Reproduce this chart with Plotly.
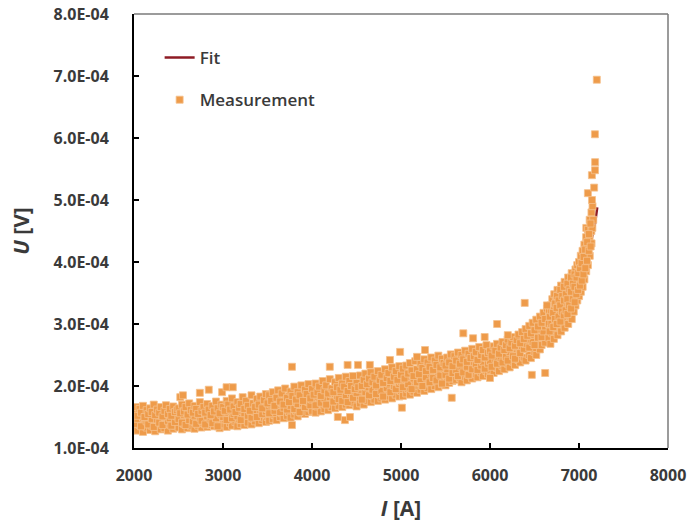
import plotly.graph_objects as go

# ---- data (U values in µV, i.e. 1E-6 V) ----
band_I = [2003,2021,2040,2062,2079,2101,2118,2142,2160,2181,2199,2222,2238,2260,2283,2301,2320,2342,2359,2381,2402,2419,2441,2460,2482,
          2501,2519,2540,2561,2580,2602,2620,2639,2661,2680,2699,2721,2740,2759,2781,2800,2822,2839,2861,2880,2899,2921,2940,2962,2981,
          3002,3020,3041,3059,3080,3101,3119,3140,3162,3181,3199,3221,3240,3260,3279,3301,3320,3339,3361,3380,3402,3419,3441,3460,3482,
          3500,3519,3541,3560,3579,3601,3620,3642,3660,3681,3699,3720,3741,3760,3779,3801,3820,3839,3861,3880,3899,3921,3940,3960,3981,
          4001,4019,4040,4061,4080,4099,4121,4140,4159,4181,4200,4221,4240,4259,4281,4300,4319,4340,4361,4380,4401,4420,4439,4461,4480,
          4501,4519,4540,4560,4581,4600,4619,4641,4660,4679,4701,4720,4740,4761,4780,4799,4821,4840,4859,4881,4900,4920,4941,4960,4981,
          5000,5021,5040,5059,5081,5100,5119,5141,5160,5179,5201,5220,5240,5261,5280,5299,5321,5340,5361,5380,5399,5420,5441,5460,5479,
          5500,5519,5541,5560,5579,5601,5620,5640,5661,5680,5699,5721,5740,5759,5781,5800,5819,5841,5860,5879,5901,5920,5941,5960,5979,
          6000,6019,6041,6060,6079,6101,6120,6140,6161,6180,6199,6221,6240,6259,6281,6300,
          6320,6339,6361,6380,6400,6419,6441,6460,6479,6500,6520,6540,6561,6580,6601,6620,6640]
band_U_low = [131,142,128,137,145,126,139,133,144,129,136,141,127,134,146,130,140,132,143,128,138,145,131,136,142,
              133,144,130,139,147,132,141,135,149,131,143,136,146,133,140,148,134,142,137,150,135,144,139,132,147,
              138,146,134,151,140,136,148,142,135,153,139,146,137,150,141,155,138,147,143,152,140,156,145,149,142,
              150,144,158,147,153,145,161,150,156,148,163,152,158,149,166,154,160,151,168,156,162,155,170,158,164,
              160,172,157,167,175,159,170,163,178,161,173,166,180,164,175,168,182,166,177,170,184,169,179,173,186,
              167,180,172,187,170,182,176,189,174,184,178,191,176,186,180,193,178,188,183,196,180,190,186,198,183,
              192,184,199,188,195,186,203,191,198,189,206,194,201,192,209,197,204,195,212,200,207,198,214,203,210,
              201,214,205,219,208,221,210,224,213,206,226,215,209,229,217,212,231,219,214,234,222,216,236,224,219,
              226,238,221,243,229,224,246,232,227,249,236,230,252,239,234,255,
              242,238,259,246,241,264,250,245,269,255,250,274,259,266,280,270,286]
band_U_mid = [152,139,147,158,135,149,162,143,138,155,147,134,160,146,141,153,137,150,163,144,148,136,157,142,151,
              147,160,141,153,137,158,145,166,143,152,139,161,149,144,156,138,151,163,146,140,157,148,135,161,153,
              150,163,145,157,169,148,155,172,151,160,145,164,156,170,152,162,149,167,158,150,173,161,155,168,159,
              163,156,170,178,160,167,181,158,173,165,177,162,184,168,175,163,180,171,158,183,172,166,186,174,169,
              178,190,169,183,186,173,194,180,170,191,182,187,175,195,184,179,190,176,197,185,174,193,188,181,199,
              189,201,194,178,207,190,198,185,203,194,210,187,199,205,192,183,210,197,204,190,214,200,195,208,203,
              207,198,216,210,203,221,195,212,218,206,225,211,200,219,214,227,206,220,213,232,209,223,217,204,228,
              218,227,212,233,221,240,226,216,237,230,222,244,231,218,239,227,248,235,226,243,233,239,228,245,236,
              240,231,252,244,236,258,245,238,262,247,241,255,264,248,244,260,
              262,253,272,260,268,275,262,281,271,266,285,278,291,279,288,296,302]
band_U_high = [160,166,152,163,157,168,150,161,155,164,158,170,153,162,157,166,151,160,169,155,163,152,167,158,161,
               164,156,170,159,166,154,172,161,157,168,163,155,174,160,166,157,171,162,153,168,159,175,164,156,170,
               166,160,176,170,162,180,167,158,174,165,171,182,163,176,168,160,185,172,166,179,170,183,164,177,187,
               172,185,176,190,168,181,193,175,188,170,196,181,174,191,184,199,178,190,185,201,176,194,187,203,180,
               195,186,204,190,199,184,208,193,201,188,211,196,190,206,198,213,194,204,199,215,192,208,200,216,195,
               205,198,217,200,210,220,203,212,222,206,215,201,224,210,218,205,227,213,221,208,230,215,224,210,232,
               218,228,212,233,220,237,225,216,240,227,219,236,229,243,224,238,231,246,226,241,234,249,230,244,237,
               233,246,238,251,232,248,241,254,236,250,243,257,239,252,245,260,248,255,242,263,250,258,246,266,253,
               256,249,264,257,268,252,262,271,258,266,275,261,270,279,265,274,
               283,269,287,276,292,281,297,285,302,290,307,296,312,302,318,308,325]
steep_I = [6658,6661,6663, 6679,6682,6680, 6698,6702,6700, 6718,6721,6719,6722, 6741,6738,6740,
           6759,6762,6760,6758, 6781,6779,6780, 6799,6802,6800,6798, 6821,6819,6820,
           6839,6842,6840,6838, 6861,6858,6860, 6879,6882,6880,6878, 6901,6899,6900,
           6919,6922,6920,6918, 6941,6939,6940, 6961,6958,6960, 6981,6979,6980,
           7001,6999,7000, 7021,7019,7020, 7041,7039,7040, 7061,7059,7060,
           7081,7079,7080,7082, 7101,7099,7100, 7121,7119,7120, 7141,7139,7140,
           7150,7152, 7146,7145, 7100, 7160, 7180,7181,7179, 7200, 7170,
           6670,6672, 6690,6688, 6711,6709, 6730,6732, 6750,6749,6752, 6770,6771,
           6791,6789,6790, 6810,6812, 6829,6831,6830, 6850,6852, 6871,6869,6870,
           6890,6892, 6911,6909,6910, 6930,6932, 6951,6949,6950, 6970,6972,
           6990,6992, 7010,7012, 7031,7029, 7050,7052, 7071,7069, 7090,7092,
           7110,7112, 7131,7129]
steep_U = [278,300,320, 268,292,330, 285,310,340, 276,298,325,348, 290,315,338,
           282,305,330,355, 296,320,348, 288,312,337,362, 300,326,352,
           294,318,345,368, 305,332,358, 300,325,350,375, 312,340,366,
           308,333,360,382, 320,348,372, 330,356,388, 338,362,395,
           345,372,400, 352,380,410, 360,392,418, 372,400,428,
           385,412,440,455, 395,425,452, 410,438,468, 430,450,480,
           455,490, 500,540, 511, 468, 548,561,606, 694, 520,
           288,312, 300,322, 295,318, 308,333, 300,326,345, 312,338,
           304,330,355, 320,345, 314,338,360, 322,348, 316,340,365,
           330,356, 325,352,375, 340,365, 335,360,380, 348,375,
           355,382, 362,390, 370,398, 380,408, 390,420, 402,432,
           418,445, 425,462]
outlier_I = [2520,2550,2740,2840,2990,3040,3110,3775,3775,4200,4290,4370,4427,4400,4517,4650,
             4876,4990,5010,5180,5270,5570,5700,5810,5940,6000,6080,6200,6390,6470,6620,6640]
outlier_U = [182,185,189,194,190,198,198,231,137,231,150,145,150,234,234,234,
             242,255,165,247,258,181,285,277,279,213,300,282,334,218,221,330]
fit_I = [2000,2500,3000,3500,4000,4500,5000,5500,6000,6300,6500,6700,6820,6900,7000,7050,7100,7150,7180,7205]
fit_U = [150,156,163,172,183,195,207,221,238,253,270,293,306,330,365,385,410,440,462,488]

y_ticks = [1e-4, 2e-4, 3e-4, 4e-4, 5e-4, 6e-4, 7e-4, 8e-4]
x_ticks = [2000, 3000, 4000, 5000, 6000, 7000, 8000]

meas_I = band_I + band_I + band_I + steep_I + outlier_I
meas_U = [u * 1e-6 for u in band_U_low + band_U_mid + band_U_high + steep_U + outlier_U]
fit_Uv = [u * 1e-6 for u in fit_U]

FONT = "Open Sans"
TXT = "#3a3a3a"
TICKFONT = dict(size=16, color=TXT, family=FONT, weight=700)

fig = go.Figure()
fig.add_trace(go.Scatter(
    x=fit_I, y=fit_Uv, mode="lines", name="Fit",
    line=dict(color="#8E1B24", width=2.5), legendgroup="a"))
fig.add_trace(go.Scatter(
    x=meas_I, y=meas_U, mode="markers", name="Measurement",
    marker=dict(symbol="square", size=7, color="#EE9B4A",
                line=dict(color="#F5C08C", width=0.8)),
    legendgroup="b"))

fig.update_layout(
    width=699, height=524,
    margin=dict(l=134, r=31, t=14, b=76),
    paper_bgcolor="white", plot_bgcolor="white",
    font=dict(family=FONT, color=TXT),
    showlegend=True,
    legend=dict(x=0.048, y=0.94, xanchor="left", yanchor="top",
                bgcolor="rgba(0,0,0,0)", traceorder="grouped", tracegroupgap=17,
                font=dict(size=17, color=TXT, family=FONT, weight=600)),
    xaxis=dict(range=[2000, 8000], tickvals=x_ticks, ticktext=[str(v) for v in x_ticks],
               automargin=False,
               showgrid=False, zeroline=False, showline=True, linecolor="black", linewidth=2,
               ticks="inside", ticklen=5, tickwidth=2, tickcolor="black",
               ticklabelstandoff=12,
               tickfont=TICKFONT,
               title=dict(text="<i>I</i> [A]", standoff=16,
                          font=dict(size=21, color=TXT, family=FONT, weight=700))),
    yaxis=dict(range=[1e-4, 8e-4], tickvals=y_ticks, ticktext=[f"{v:.1E}" for v in y_ticks],
               automargin=False,
               showgrid=False, zeroline=False, showline=True, linecolor="black", linewidth=2,
               ticks="inside", ticklen=5, tickwidth=2, tickcolor="black",
               ticklabelstandoff=20,
               tickfont=TICKFONT,
               title=dict(text="<i>U</i> [V]", standoff=18,
                          font=dict(size=21, color=TXT, family=FONT, weight=700))),
    shapes=[
        dict(type="line", xref="paper", yref="paper", x0=0, x1=1, y0=1, y1=1,
             line=dict(color="#7a7a7a", width=1.5)),
        dict(type="line", xref="paper", yref="paper", x0=1, x1=1, y0=0, y1=1,
             line=dict(color="#7a7a7a", width=1.5)),
    ],
)

fig.write_html("out.html")
